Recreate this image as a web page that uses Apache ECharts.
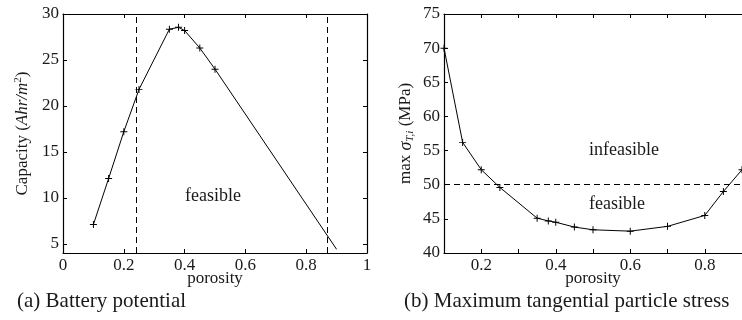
<!DOCTYPE html>
<html><head><meta charset="utf-8">
<script src="https://cdn.jsdelivr.net/npm/echarts@6/dist/echarts.min.js"></script>
<style>html,body{margin:0;padding:0;background:#fff}#c{width:742px;height:320px}</style>
</head><body><div id="c"></div>
<script>
// ---- data ----
var capPorosity = [0.1, 0.15, 0.2, 0.25, 0.35, 0.38, 0.4, 0.45, 0.5, 0.9];
var capValues   = [7.1, 12.1, 17.2, 21.8, 28.35, 28.55, 28.2, 26.3, 24.0, 4.4];
var capMarked   = [true, true, true, true, true, true, true, true, true, false];
var capBounds   = [0.241, 0.866];

var strPorosity = [0.1, 0.15, 0.2, 0.25, 0.35, 0.38, 0.4, 0.45, 0.5, 0.6, 0.7, 0.8, 0.85, 0.9];
var strValues   = [70.0, 56.2, 52.2, 49.6, 45.1, 44.7, 44.5, 43.8, 43.4, 43.2, 43.9, 45.5, 49.0, 52.2];
var strLimit    = [50];

var capXTicks = [0, 0.2, 0.4, 0.6, 0.8, 1];
var capYTicks = [5, 10, 15, 20, 25, 30];
var strXLabels = [0.2, 0.4, 0.6, 0.8];
var strXTicks  = [0.2, 0.3, 0.4, 0.5, 0.6, 0.7, 0.8];
var strYTicks  = [40, 45, 50, 55, 60, 65, 70, 75];

// ---- chart ----
var FONT = '"Liberation Serif","DejaVu Serif",serif';
var TXT = '#1a1a1a';
var plus = 'path://M-0.7,-5h1.4v10h-1.4z M-5,-0.7h10v1.4h-10z';

function mkPts(xs, ys, marked) {
  return xs.map(function (x, i) {
    var d = { value: [x, ys[i]] };
    if (marked && !marked[i]) d.symbol = 'none';
    return d;
  });
}
function axisBase(grid, pos, min, max, showLabel, labelVals, tickVals) {
  return {
    type: 'value', gridIndex: grid, position: pos, min: min, max: max,
    nameMoveOverlap: false,
    splitLine: { show: false },
    axisLine: { show: true, onZero: false, lineStyle: { color: '#000', width: 1.2 } },
    axisTick: { show: true, inside: true, length: 4, customValues: tickVals, lineStyle: { color: '#000', width: 1 } },
    axisLabel: { show: showLabel, customValues: labelVals, fontFamily: FONT, fontSize: 17, color: TXT, margin: 4 }
  };
}

var xA0 = axisBase(0, 'bottom', 0, 1, true, capXTicks, capXTicks);
xA0.name = 'porosity'; xA0.nameLocation = 'middle'; xA0.nameGap = 17;
xA0.nameTextStyle = { fontFamily: FONT, fontSize: 17, color: TXT, verticalAlign: 'top' };
var xA1 = axisBase(0, 'top', 0, 1, false, capXTicks, capXTicks);
var yA0 = axisBase(0, 'left', 4, 30, true, capYTicks, capYTicks);
yA0.name = '{r|Capacity (}{i|Ahr/m}{s|2}{r|)}';
yA0.nameLocation = 'middle'; yA0.nameGap = 40; yA0.nameRotate = 90;
yA0.nameTextStyle = { fontFamily: FONT, fontSize: 17, color: TXT, verticalAlign: 'middle',
  rich: {
    r: { fontFamily: FONT, fontSize: 17, color: TXT, lineHeight: 20 },
    i: { fontFamily: FONT, fontSize: 17, color: TXT, fontStyle: 'italic', lineHeight: 20 },
    s: { fontFamily: FONT, fontSize: 11, color: TXT, verticalAlign: 'top', lineHeight: 14 }
  } };
var yA1 = axisBase(0, 'right', 4, 30, false, capYTicks, capYTicks);

var xA2 = axisBase(1, 'bottom', 0.1, 0.9, true, strXLabels, strXTicks);
xA2.name = 'porosity'; xA2.nameLocation = 'middle'; xA2.nameGap = 17;
xA2.nameTextStyle = { fontFamily: FONT, fontSize: 17, color: TXT, verticalAlign: 'top' };
var xA3 = axisBase(1, 'top', 0.1, 0.9, false, strXLabels, strXTicks);
var yA2 = axisBase(1, 'left', 40, 75, true, strYTicks, strYTicks);
yA2.name = '{r|max }{g|σ}{b|T,i}{r| (MPa)}';
yA2.nameLocation = 'middle'; yA2.nameGap = 38; yA2.nameRotate = 90;
yA2.nameTextStyle = { fontFamily: FONT, fontSize: 17, color: TXT, verticalAlign: 'middle',
  rich: {
    r: { fontFamily: FONT, fontSize: 17, color: TXT, lineHeight: 20 },
    g: { fontFamily: FONT, fontSize: 18, color: TXT, fontStyle: 'italic', lineHeight: 20 },
    b: { fontFamily: FONT, fontSize: 11, color: TXT, fontStyle: 'italic', verticalAlign: 'bottom', lineHeight: 12 }
  } };

var dashStyle = { color: '#000', width: 1, type: [6, 4] };

var option = {
  animation: false,
  backgroundColor: '#fff',
  grid: [
    { left: 63, top: 14, width: 304, height: 239 },
    { left: 444, top: 14, width: 304, height: 239 }
  ],
  xAxis: [xA0, xA1, xA2, xA3],
  yAxis: [yA0, yA1, yA2],
  series: [
    {
      type: 'line', xAxisIndex: 0, yAxisIndex: 0,
      data: mkPts(capPorosity, capValues, capMarked),
      symbol: plus, symbolSize: 7, showAllSymbol: true,
      lineStyle: { color: '#000', width: 1 },
      itemStyle: { color: '#000' },
      markLine: {
        silent: true, symbol: ['none', 'none'], label: { show: false },
        lineStyle: dashStyle,
        data: capBounds.map(function (v) { return { xAxis: v }; })
      }
    },
    {
      type: 'line', xAxisIndex: 2, yAxisIndex: 2,
      data: mkPts(strPorosity, strValues, null),
      symbol: plus, symbolSize: 7, showAllSymbol: true,
      lineStyle: { color: '#000', width: 1 },
      itemStyle: { color: '#000' },
      markLine: {
        silent: true, symbol: ['none', 'none'], label: { show: false },
        lineStyle: dashStyle,
        data: strLimit.map(function (v) { return { yAxis: v }; })
      }
    }
  ],
  graphic: [
    { type: 'text', left: 185, top: 187, style: { text: 'feasible', font: '18px ' + FONT, fill: TXT } },
    { type: 'text', left: 589, top: 141, style: { text: 'infeasible', font: '18px ' + FONT, fill: TXT } },
    { type: 'text', left: 589, top: 195, style: { text: 'feasible', font: '18px ' + FONT, fill: TXT } },
    { type: 'text', left: 17, top: 291, style: { text: '(a) Battery potential', font: '21px ' + FONT, fill: TXT } },
    { type: 'text', left: 404, top: 291, style: { text: '(b) Maximum tangential particle stress', font: '21px ' + FONT, fill: TXT } }
  ]
};
var chart = echarts.init(document.getElementById('c'), null, { renderer: 'canvas' });
chart.setOption(option);
</script>
</body></html>
